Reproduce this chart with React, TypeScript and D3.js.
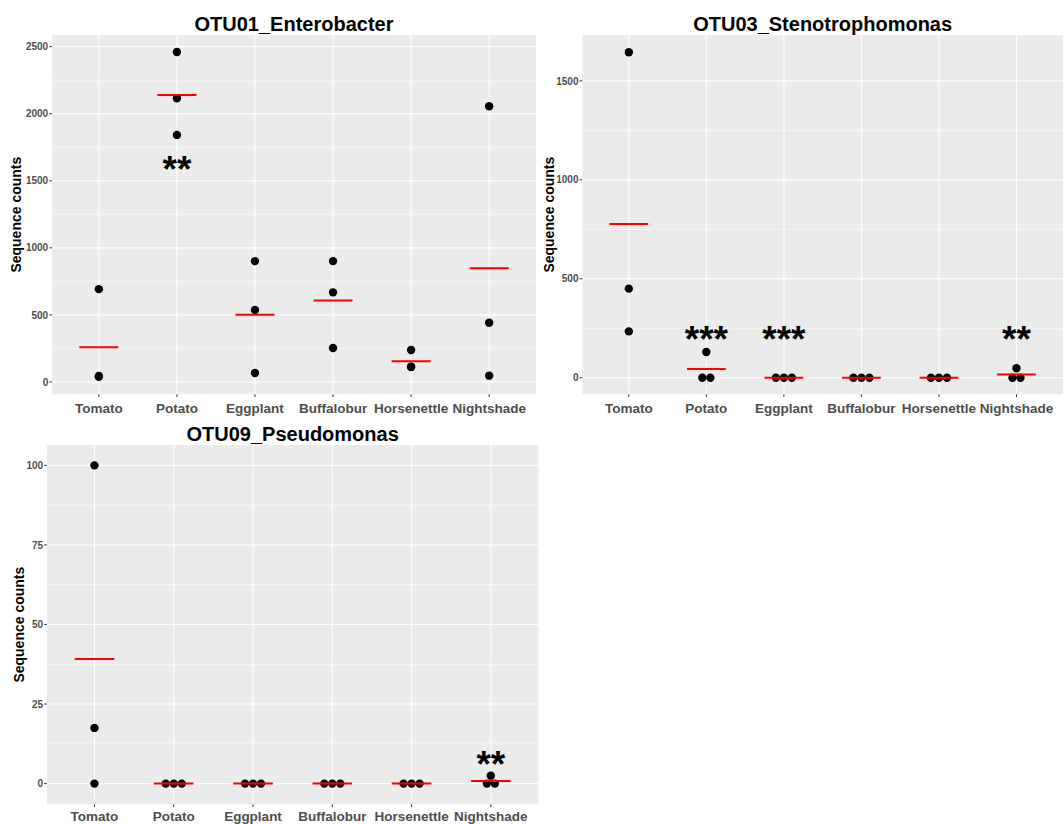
import React, { useRef, useEffect } from "react";
import { select, scalePoint, scaleLinear, mean } from "d3";

const groups = ["Tomato", "Potato", "Eggplant", "Buffalobur", "Horsenettle", "Nightshade"];

// sequence counts of the three samples for every plant
const enterobacterCounts = [
  [692, 44, 38],
  [2460, 2115, 1842],
  [901, 536, 67],
  [901, 668, 253],
  [238, 113, 111],
  [2056, 442, 47],
];
const stenoCounts = [
  [1645, 450, 234],
  [130, 0, 0],
  [0, 0, 0],
  [0, 0, 0],
  [0, 0, 0],
  [48, 0, 0],
];
const pseudoCounts = [
  [100, 17.5, 0],
  [0, 0, 0],
  [0, 0, 0],
  [0, 0, 0],
  [0, 0, 0],
  [2.5, 0, 0],
];

const enterobacterTicks = [0, 500, 1000, 1500, 2000, 2500];
const stenoTicks = [0, 500, 1000, 1500];
const pseudoTicks = [0, 25, 50, 75, 100];

const enterobacterDomain = [-92, 2587];
const stenoDomain = [-84, 1732];
const pseudoDomain = [-6.5, 106.4];

// significance stars
const enterobacterStars = [{ group: "Potato", y: 1631, label: "**" }];
const stenoStars = [
  { group: "Potato", y: 224, label: "***" },
  { group: "Eggplant", y: 224, label: "***" },
  { group: "Nightshade", y: 224, label: "**" },
];
const pseudoStars = [{ group: "Nightshade", y: 8, label: "**" }];

const FONT = "'Liberation Sans', Arial, Helvetica, sans-serif";

function Panel({ title, counts, ticks, domain, stars, box }) {
  const gRef = useRef();

  useEffect(() => {
    const g = select(gRef.current);
    g.selectAll("*").remove();
    const { left, right, top, bottom, titleY, yTitleX, labelDy } = box;

    const x = scalePoint().domain(groups).range([left, right]).padding(0.6);
    const y = scaleLinear().domain(domain).range([bottom, top]);
    const step = x.step();

    g.append("rect")
      .attr("x", left).attr("y", top)
      .attr("width", right - left).attr("height", bottom - top)
      .attr("fill", "#EBEBEB");

    // minor grid at midpoints
    const half = (ticks[1] - ticks[0]) / 2;
    const minor = [ticks[0] - half, ...ticks.map((t) => t + half)]
      .filter((v) => v > domain[0] && v < domain[1]);
    g.selectAll(".minor").data(minor).join("line")
      .attr("x1", left).attr("x2", right)
      .attr("y1", (d) => y(d)).attr("y2", (d) => y(d))
      .attr("stroke", "white").attr("stroke-width", 0.55);

    g.selectAll(".hmajor").data(ticks).join("line")
      .attr("x1", left).attr("x2", right)
      .attr("y1", (d) => y(d)).attr("y2", (d) => y(d))
      .attr("stroke", "white").attr("stroke-width", 1.1);

    g.selectAll(".vmajor").data(groups).join("line")
      .attr("x1", (d) => x(d)).attr("x2", (d) => x(d))
      .attr("y1", top).attr("y2", bottom)
      .attr("stroke", "white").attr("stroke-width", 1.1);

    // axis ticks + labels
    g.selectAll(".ytick").data(ticks).join("line")
      .attr("x1", left - 2.7).attr("x2", left)
      .attr("y1", (d) => y(d)).attr("y2", (d) => y(d))
      .attr("stroke", "#333333").attr("stroke-width", 1);
    g.selectAll(".ylab").data(ticks).join("text")
      .attr("x", left - 3.8).attr("y", (d) => y(d)).attr("dy", "0.36em")
      .attr("text-anchor", "end")
      .attr("font-family", FONT).attr("font-size", 10).attr("font-weight", "bold")
      .attr("fill", "#4D4D4D")
      .text((d) => d);

    g.selectAll(".xtick").data(groups).join("line")
      .attr("x1", (d) => x(d)).attr("x2", (d) => x(d))
      .attr("y1", bottom).attr("y2", bottom + 2.7)
      .attr("stroke", "#333333").attr("stroke-width", 1);
    g.selectAll(".xlab").data(groups).join("text")
      .attr("x", (d) => x(d)).attr("y", bottom + labelDy)
      .attr("text-anchor", "middle")
      .attr("font-family", FONT).attr("font-size", 13.5).attr("font-weight", "bold")
      .attr("fill", "#4D4D4D")
      .text((d) => d);

    // points, tied values side by side
    const pts = [];
    counts.forEach((vals, gi) => {
      vals.forEach((v, i) => {
        const ties = vals.filter((w) => w === v).length;
        const k = vals.slice(0, i).filter((w) => w === v).length;
        pts.push({ group: groups[gi], value: v, off: (k - (ties - 1) / 2) * 8 });
      });
    });
    g.selectAll(".pt").data(pts).join("circle")
      .attr("cx", (d) => x(d.group) + d.off)
      .attr("cy", (d) => y(d.value))
      .attr("r", 4.2)
      .attr("fill", "black");

    // mean bars
    g.selectAll(".mean").data(counts).join("line")
      .attr("x1", (d, i) => x(groups[i]) - step * 0.25)
      .attr("x2", (d, i) => x(groups[i]) + step * 0.25)
      .attr("y1", (d) => y(mean(d))).attr("y2", (d) => y(mean(d)))
      .attr("stroke", "#FF0000").attr("stroke-width", 2);

    g.selectAll(".star").data(stars).join("text")
      .attr("x", (d) => x(d.group)).attr("y", (d) => y(d.y)).attr("dy", "0.5em")
      .attr("text-anchor", "middle")
      .attr("font-family", FONT).attr("font-size", 37).attr("font-weight", "bold")
      .attr("fill", "black")
      .text((d) => d.label);

    g.append("text")
      .attr("x", (left + right) / 2).attr("y", titleY)
      .attr("text-anchor", "middle")
      .attr("font-family", FONT).attr("font-size", 20).attr("font-weight", "bold")
      .attr("fill", "black")
      .text(title);

    g.append("text")
      .attr("transform", `translate(${yTitleX},${(top + bottom) / 2}) rotate(-90)`)
      .attr("text-anchor", "middle")
      .attr("font-family", FONT).attr("font-size", 14).attr("font-weight", "bold")
      .attr("fill", "black")
      .text("Sequence counts");
  }, [title, counts, ticks, domain, stars, box]);

  return <g ref={gRef} />;
}

const box1 = { left: 52, right: 536, top: 35, bottom: 394.3, titleY: 31, yTitleX: 20.5, labelDy: 19 };
const box2 = { left: 582.3, right: 1063, top: 35, bottom: 394.3, titleY: 31, yTitleX: 553.6, labelDy: 19 };
const box3 = { left: 46.9, right: 538.4, top: 445, bottom: 804.3, titleY: 440.5, yTitleX: 23.8, labelDy: 16.6 };

export default function App() {
  return (
    <div style={{ position: "absolute", left: 0, top: 0 }}>
      <svg width={1064} height={824} style={{ display: "block", background: "white" }}>
        <Panel title="OTU01_Enterobacter" counts={enterobacterCounts} ticks={enterobacterTicks}
          domain={enterobacterDomain} stars={enterobacterStars} box={box1} />
        <Panel title="OTU03_Stenotrophomonas" counts={stenoCounts} ticks={stenoTicks}
          domain={stenoDomain} stars={stenoStars} box={box2} />
        <Panel title="OTU09_Pseudomonas" counts={pseudoCounts} ticks={pseudoTicks}
          domain={pseudoDomain} stars={pseudoStars} box={box3} />
      </svg>
    </div>
  );
}
